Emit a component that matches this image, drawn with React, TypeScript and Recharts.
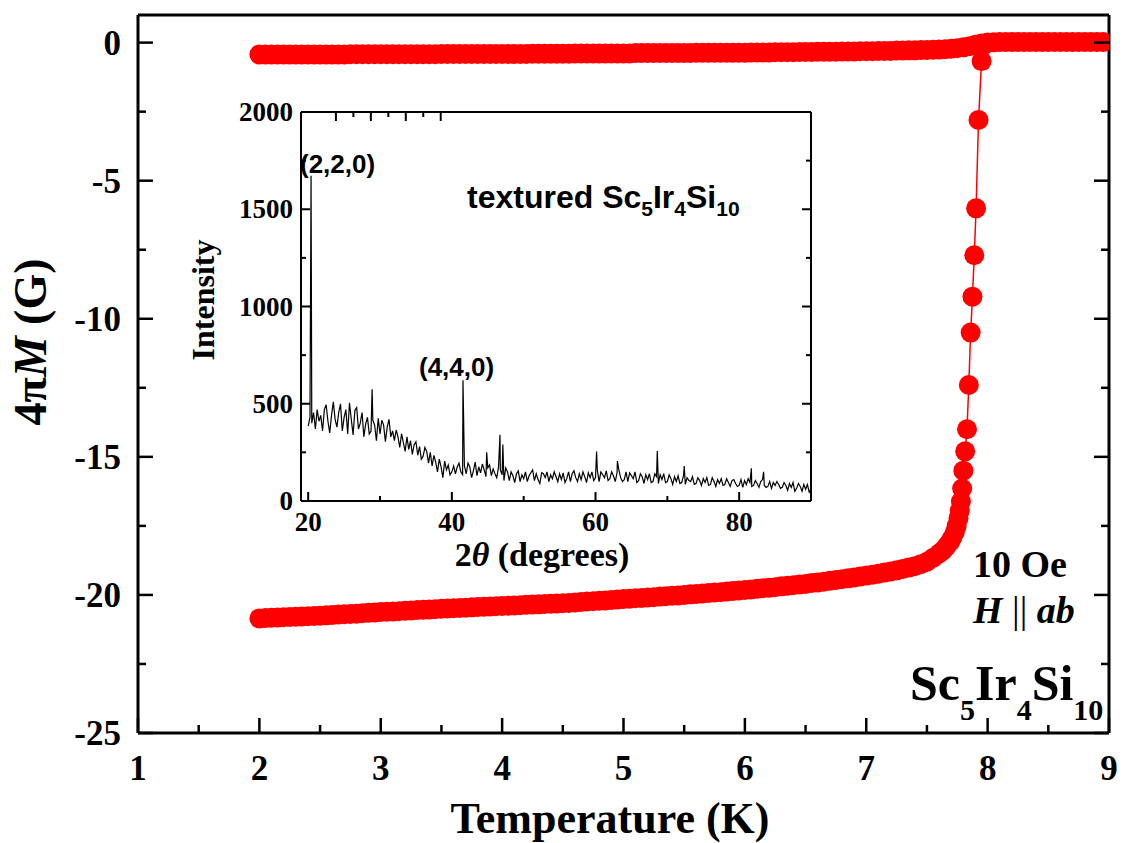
import React from "react";
import {
  ScatterChart,
  Scatter,
  LineChart,
  Line,
  XAxis,
  YAxis,
} from "recharts";

// ---- main panel: 4πM vs T (10 Oe, H || ab) ----
const tempTicks = [1, 1.5, 2, 2.5, 3, 3.5, 4, 4.5, 5, 5.5, 6, 6.5, 7, 7.5, 8, 8.5, 9];
const momentTicks = [0, -2.5, -5, -7.5, -10, -12.5, -15, -17.5, -20, -22.5, -25];

// field-cooled branch, sampled every 0.05 K from 2 K
const FC_START = 2;
const FC_STEP = 0.05;
const fcMoment = [
  -0.43, -0.43, -0.43, -0.43, -0.43, -0.43, -0.43, -0.43, -0.43, -0.43,
  -0.43, -0.43, -0.43, -0.43, -0.43, -0.42, -0.42, -0.42, -0.42, -0.42,
  -0.42, -0.42, -0.42, -0.42, -0.42, -0.42, -0.42, -0.42, -0.42, -0.42,
  -0.41, -0.41, -0.41, -0.41, -0.41, -0.41, -0.41, -0.41, -0.41, -0.41,
  -0.41, -0.41, -0.41, -0.41, -0.41, -0.4, -0.4, -0.4, -0.4, -0.4,
  -0.4, -0.4, -0.39, -0.39, -0.39, -0.39, -0.39, -0.39, -0.39, -0.39,
  -0.39, -0.39, -0.38, -0.38, -0.38, -0.38, -0.38, -0.38, -0.38, -0.38,
  -0.38, -0.38, -0.37, -0.37, -0.37, -0.37, -0.37, -0.37, -0.37, -0.37,
  -0.37, -0.36, -0.36, -0.36, -0.36, -0.35, -0.35, -0.35, -0.35, -0.34,
  -0.34, -0.34, -0.33, -0.33, -0.33, -0.33, -0.32, -0.32, -0.32, -0.31,
  -0.31, -0.31, -0.3, -0.3, -0.3, -0.29, -0.29, -0.28, -0.28, -0.27,
  -0.27, -0.26, -0.25, -0.24, -0.22, -0.2, -0.17, -0.13, -0.08, -0.03,
  0, 0.01, 0.02, 0.02, 0.02, 0.02, 0.02, 0.02, 0.02, 0.02,
  0.02, 0.02, 0.02, 0.02, 0.02, 0.02, 0.02, 0.02, 0.02, 0.02,
];

// zero-field-cooled branch, every 0.05 K from 2 K to 7.45 K
const ZFC_START = 2;
const ZFC_STEP = 0.05;
const zfcMoment = [
  -20.85, -20.84, -20.83, -20.82, -20.81, -20.8, -20.79, -20.78, -20.77, -20.76,
  -20.75, -20.74, -20.73, -20.71, -20.7, -20.69, -20.68, -20.66, -20.65, -20.64,
  -20.62, -20.61, -20.6, -20.59, -20.57, -20.56, -20.55, -20.54, -20.53, -20.52,
  -20.5, -20.49, -20.48, -20.47, -20.46, -20.45, -20.44, -20.43, -20.42, -20.41,
  -20.4, -20.39, -20.38, -20.37, -20.36, -20.35, -20.34, -20.33, -20.32, -20.31,
  -20.3, -20.29, -20.27, -20.26, -20.24, -20.23, -20.21, -20.2, -20.18, -20.17,
  -20.15, -20.14, -20.12, -20.11, -20.09, -20.08, -20.06, -20.05, -20.03, -20.02,
  -20.0, -19.98, -19.97, -19.95, -19.93, -19.91, -19.9, -19.88, -19.86, -19.84,
  -19.82, -19.8, -19.78, -19.76, -19.74, -19.72, -19.69, -19.67, -19.65, -19.62,
  -19.6, -19.57, -19.55, -19.52, -19.49, -19.46, -19.43, -19.4, -19.37, -19.33,
  -19.3, -19.27, -19.23, -19.19, -19.15, -19.11, -19.06, -19.01, -18.96, -18.89,
];
// the superconducting transition, read point by point
const transTemp = [
  7.5, 7.55, 7.6, 7.63, 7.66, 7.69, 7.71, 7.73, 7.745, 7.76, 7.77, 7.78,
  7.79, 7.8, 7.815, 7.83, 7.845, 7.86, 7.875, 7.89, 7.905, 7.925, 7.95, 7.97,
];
const transMoment = [
  -18.8, -18.66, -18.5, -18.4, -18.25, -18.08, -17.92, -17.72, -17.5, -17.22, -16.95, -16.62,
  -16.15, -15.5, -14.8, -14.0, -12.4, -10.5, -9.2, -7.7, -6.0, -2.8, -0.67, -0.08,
];

// ---- inset: XRD pattern ----
const angleTicks = [20, 30, 40, 50, 60, 70, 80];
const intensityTicks = [0, 250, 500, 750, 1000, 1250, 1500, 1750, 2000];
const XRD_START = 20;
const XRD_STEP = 0.25;
const xrdBackground = [
  385, 430, 400, 455, 370, 470, 410, 440,
  360, 470, 495, 410, 350, 440, 510, 420,
  380, 455, 500, 360, 430, 470, 345, 505,
  420, 340, 465, 480, 370, 400, 455, 330,
  395, 430, 345, 360, 415, 390, 310, 425,
  345, 415, 390, 305, 380, 420, 330, 360,
  310, 365, 330, 275, 345, 300, 255, 330,
  265, 310, 240, 290, 305, 235, 280, 215,
  230, 275, 255, 195, 250, 180, 235, 200,
  150, 215, 175, 120, 205, 160, 185, 135,
  150, 180, 140, 175, 195, 150, 135, 180,
  140, 195, 175, 120, 155, 200, 130, 175,
  145, 190, 160, 125, 170, 185, 130, 165,
  140, 120, 175, 160, 135, 105, 170, 150,
  105, 150, 130, 95, 140, 155, 100, 135,
  115, 150, 100, 130, 145, 160, 105, 140,
  110, 90, 145, 140, 120, 150, 100, 135,
  115, 150, 125, 100, 140, 110, 145, 95,
  115, 150, 100, 140, 155, 120, 100, 140,
  110, 150, 125, 95, 145, 120, 150, 105,
  120, 160, 100, 150, 135, 120, 155, 105,
  115, 150, 130, 100, 145, 160, 120, 100,
  110, 150, 100, 145, 130, 115, 150, 95,
  105, 140, 125, 90, 135, 110, 140, 95,
  100, 140, 125, 90, 135, 110, 140, 95,
  100, 135, 115, 85, 125, 100, 130, 90,
  95, 130, 85, 120, 105, 100, 125, 85,
  90, 120, 105, 80, 115, 95, 120, 80,
  85, 120, 100, 75, 110, 90, 115, 80,
  85, 115, 95, 75, 105, 110, 90, 75,
  80, 110, 70, 105, 85, 115, 95, 75,
  80, 105, 90, 70, 100, 110, 80, 70,
  75, 100, 65, 95, 80, 100, 85, 65,
  70, 95, 80, 55, 90, 70, 95, 50,
  65, 90, 75, 50, 85, 60, 85, 45,
  60,
];
const peakAngle = [20.4, 28.9, 41.55, 44.85, 46.7, 47.1, 60.15, 63.05, 68.6, 72.35, 81.7, 83.4];
const peakIntensity = [1672, 575, 621, 250, 340, 290, 254, 205, 257, 180, 168, 150];

const fcData = fcMoment.map((m, i) => ({ t: +(FC_START + i * FC_STEP).toFixed(3), m }));
const zfcData = [
  ...zfcMoment.map((m, i) => ({ t: +(ZFC_START + i * ZFC_STEP).toFixed(3), m })),
  ...transTemp.map((t, i) => ({ t, m: transMoment[i] })),
];
const xrdData = [
  ...xrdBackground.map((v, i) => ({ a: XRD_START + i * XRD_STEP, v })),
  ...peakAngle.map((a, i) => ({ a, v: peakIntensity[i] })),
].sort((p, q) => p.a - q.a);

const SERIF = '"Liberation Serif", "Times New Roman", serif';
const SANS = '"Liberation Sans", Arial, sans-serif';
const RED = "#ff0000";

type Side = "bottom" | "top" | "left" | "right";
interface TickOpts {
  side: Side;
  isMajor: (v: number) => boolean;
  majorLen: number;
  minorLen: number;
  width: number;
  labels?: boolean;
  fontSize?: number;
  offset?: number;
}

// ticks point into the plot; labels sit outside
const makeTick = (o: TickOpts) => (props: any) => {
  const { x, y, payload } = props;
  const v = payload.value as number;
  const major = o.isMajor(v);
  const len = major ? o.majorLen : o.minorLen;
  let x2 = x;
  let y2 = y;
  if (o.side === "bottom") y2 = y - len;
  if (o.side === "top") y2 = y + len;
  if (o.side === "left") x2 = x + len;
  if (o.side === "right") x2 = x - len;
  const fs = o.fontSize ?? 34;
  return (
    <g>
      <line x1={x} y1={y} x2={x2} y2={y2} stroke="#000" strokeWidth={o.width} />
      {o.labels && major && o.side === "bottom" && (
        <text x={x} y={y + (o.offset ?? 0)} textAnchor="middle" fontFamily={SERIF}
          fontWeight="bold" fontSize={fs} fill="#000">{String(v)}</text>
      )}
      {o.labels && major && o.side === "left" && (
        <text x={x - (o.offset ?? 0)} y={y + fs * 0.34} textAnchor="end" fontFamily={SERIF}
          fontWeight="bold" fontSize={fs} fill="#000">{String(v)}</text>
      )}
    </g>
  );
};

const isInt = (v: number) => Math.abs(v - Math.round(v)) < 1e-6;
const isFive = (v: number) => Math.abs(v / 5 - Math.round(v / 5)) < 1e-6;
const isTwenty = (v: number) => v % 20 === 0;
const isFiveHundred = (v: number) => v % 500 === 0;

const mainAxisLine = { stroke: "#000", strokeWidth: 3 };
const insetAxisLine = { stroke: "#000", strokeWidth: 2 };

const Dot = (props: any) => <circle cx={props.cx} cy={props.cy} r={10} fill={RED} />;

export default function App() {
  return (
    <div style={{ position: "absolute", left: 0, top: 0, width: 1127, height: 843, background: "#fff" }}>
      <div style={{ position: "absolute", left: 0, top: 0 }}>
        <ScatterChart width={1127} height={843} margin={{ top: 0, right: 0, bottom: 0, left: 0 }}>
          <XAxis xAxisId="b" type="number" dataKey="t" domain={[1, 9]} ticks={tempTicks} interval={0}
            allowDataOverflow height={110} axisLine={mainAxisLine} tickLine={false} tickSize={0} tickMargin={0}
            tick={makeTick({ side: "bottom", isMajor: isInt, majorLen: 15, minorLen: 8, width: 2.5, labels: true, fontSize: 35, offset: 47 })} />
          <XAxis xAxisId="t" orientation="top" type="number" domain={[1, 9]} ticks={tempTicks} interval={0}
            allowDataOverflow height={15} axisLine={mainAxisLine} tickLine={false} tickSize={0} tickMargin={0}
            tick={makeTick({ side: "top", isMajor: isInt, majorLen: 15, minorLen: 8, width: 2.5 })} />
          <YAxis yAxisId="l" type="number" dataKey="m" domain={[-25, 1]} ticks={momentTicks} interval={0}
            allowDataOverflow width={138} axisLine={mainAxisLine} tickLine={false} tickSize={0} tickMargin={0}
            tick={makeTick({ side: "left", isMajor: isFive, majorLen: 15, minorLen: 8, width: 2.5, labels: true, fontSize: 35, offset: 17 })} />
          <YAxis yAxisId="r" orientation="right" type="number" domain={[-25, 1]} ticks={momentTicks} interval={0}
            allowDataOverflow width={18} axisLine={mainAxisLine} tickLine={false} tickSize={0} tickMargin={0}
            tick={makeTick({ side: "right", isMajor: isFive, majorLen: 15, minorLen: 8, width: 2.5 })} />
          <Scatter xAxisId="b" yAxisId="l" data={zfcData} fill={RED} line={{ stroke: RED, strokeWidth: 1.5 }}
            shape={Dot} isAnimationActive={false} />
          <Scatter xAxisId="b" yAxisId="l" data={fcData} fill={RED} line={{ stroke: RED, strokeWidth: 1.5 }}
            shape={Dot} isAnimationActive={false} />
        </ScatterChart>
      </div>

      <div style={{ position: "absolute", left: 150, top: 95 }}>
        <LineChart width={680} height={500} data={xrdData} margin={{ top: 0, right: 0, bottom: 0, left: 0 }}>
          <XAxis xAxisId="b" type="number" dataKey="a" domain={[19, 90]} ticks={angleTicks} interval={0}
            allowDataOverflow height={94} axisLine={insetAxisLine} tickLine={false} tickSize={0} tickMargin={0}
            tick={makeTick({ side: "bottom", isMajor: isTwenty, majorLen: 9, minorLen: 5, width: 2, labels: true, fontSize: 27, offset: 30 })} />
          <XAxis xAxisId="t" orientation="top" type="number" domain={[19, 90]} ticks={angleTicks} interval={0}
            allowDataOverflow height={17} axisLine={insetAxisLine} tickLine={false} tickSize={0} tickMargin={0}
            tick={makeTick({ side: "top", isMajor: isTwenty, majorLen: 9, minorLen: 5, width: 2 })} />
          <YAxis yAxisId="l" type="number" domain={[0, 2000]} ticks={intensityTicks} interval={0}
            allowDataOverflow width={151} axisLine={insetAxisLine} tickLine={false} tickSize={0} tickMargin={0}
            tick={makeTick({ side: "left", isMajor: isFiveHundred, majorLen: 9, minorLen: 5, width: 2, labels: true, fontSize: 27, offset: 8 })} />
          <YAxis yAxisId="r" orientation="right" type="number" domain={[0, 2000]} ticks={intensityTicks} interval={0}
            allowDataOverflow width={19} axisLine={insetAxisLine} tickLine={false} tickSize={0} tickMargin={0}
            tick={makeTick({ side: "right", isMajor: isFiveHundred, majorLen: 9, minorLen: 5, width: 2 })} />
          <Line xAxisId="b" yAxisId="l" type="linear" dataKey="v" stroke="#000" strokeWidth={1.2}
            dot={false} isAnimationActive={false} />
        </LineChart>
      </div>

      <svg width={1127} height={843} style={{ position: "absolute", left: 0, top: 0, pointerEvents: "none" }}>
        <g fontFamily={SERIF} fontWeight="bold" fill="#000">
          <text transform="translate(46,342) rotate(-90)" textAnchor="middle" fontSize={46}>
            4π<tspan fontStyle="italic">M</tspan> (G)
          </text>
          <text x={610} y={833} textAnchor="middle" fontSize={44}>Temperature (K)</text>
          <text x={973} y={577} fontSize={38}>10 Oe</text>
          <text x={973} y={623} fontSize={38}>
            <tspan fontStyle="italic">H</tspan>
            <tspan fontWeight="normal"> || </tspan>
            <tspan fontStyle="italic">ab</tspan>
          </text>
          <text x={910} y={700} fontSize={50}>
            Sc<tspan fontSize={30} dy={20}>5</tspan>
            <tspan dy={-20}>Ir</tspan>
            <tspan fontSize={30} dy={20}>4</tspan>
            <tspan dy={-20}>Si</tspan>
            <tspan fontSize={30} dy={20}>10</tspan>
          </text>
          <text transform="translate(214,300) rotate(-90)" textAnchor="middle" fontSize={32}>Intensity</text>
          <text x={542} y={566} textAnchor="middle" fontSize={34}>
            2<tspan fontStyle="italic">θ</tspan> (degrees)
          </text>
        </g>
        <g fontFamily={SANS} fontWeight="bold" fill="#000">
          <text x={300} y={173} fontSize={26}>(2,2,0)</text>
          <text x={419} y={376} fontSize={26}>(4,4,0)</text>
          <text x={467} y={208} fontSize={32}>
            textured Sc<tspan fontSize={21} dy={8}>5</tspan>
            <tspan dy={-8}>Ir</tspan>
            <tspan fontSize={21} dy={8}>4</tspan>
            <tspan dy={-8}>Si</tspan>
            <tspan fontSize={21} dy={8}>10</tspan>
          </text>
        </g>
      </svg>
    </div>
  );
}
